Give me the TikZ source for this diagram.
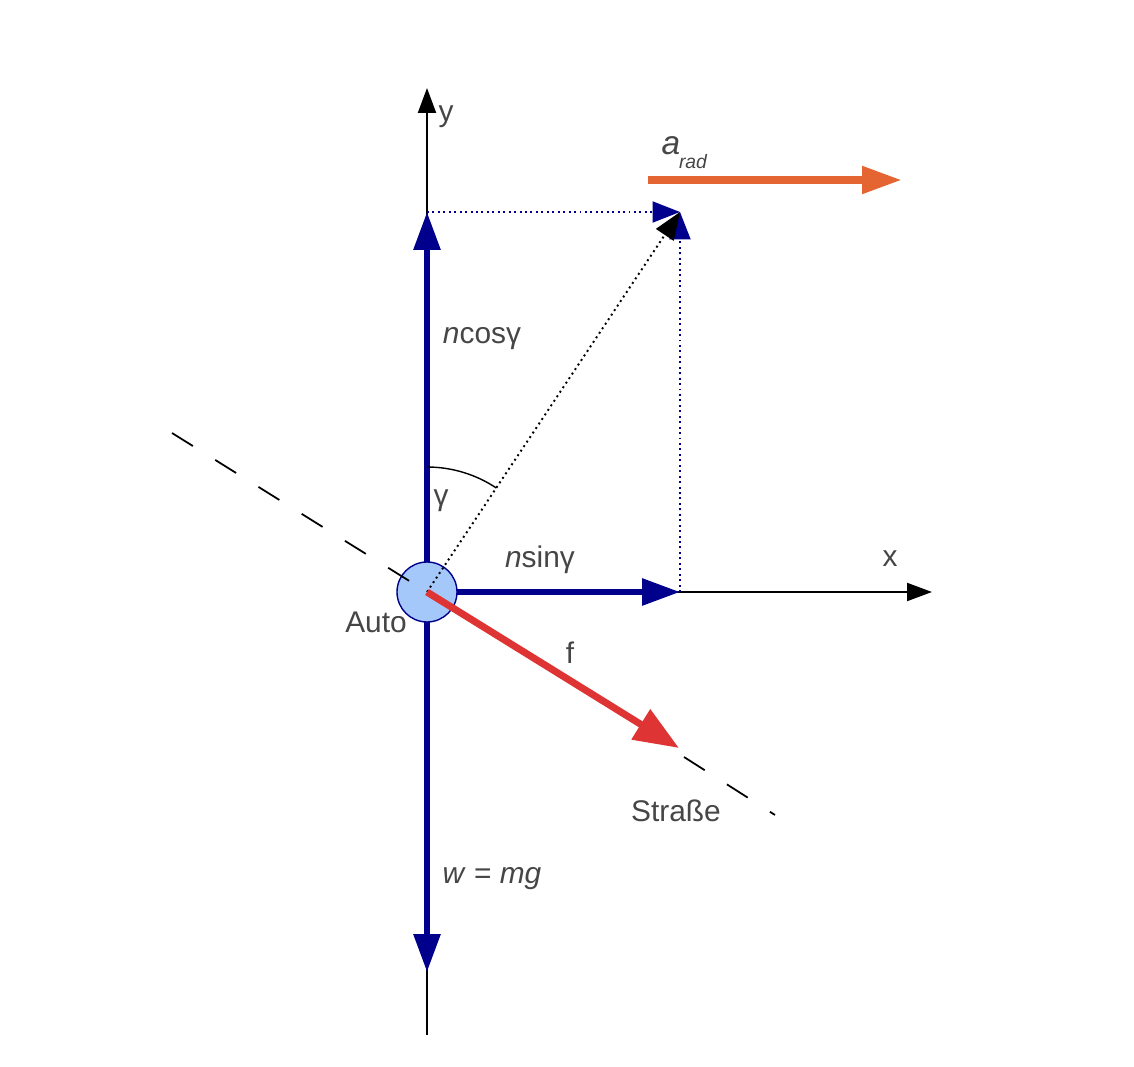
\documentclass[tikz,border=0pt]{standalone}
\usepackage{fontspec}
\setmainfont{Liberation Sans}
\usetikzlibrary{arrows.meta}
\usetikzlibrary{positioning}

\definecolor{navy}{RGB}{0,0,140}
\definecolor{forcered}{RGB}{222,52,52}
\definecolor{accorange}{RGB}{228,100,50}
\definecolor{autofill}{RGB}{165,200,250}
\definecolor{labelgray}{RGB}{70,70,70}

\tikzset{
  axis/.style={draw=black,line width=1.2pt,-{Triangle[length=0.5cm,width=0.36cm]}},
  bluevec/.style={draw=navy,line width=3.4pt,-{Triangle[length=0.76cm,width=0.52cm]}},
  helpline/.style={draw=navy,line width=1.1pt,dotted,-{Triangle[length=0.55cm,width=0.42cm,fill=navy]}},
  roadline/.style={line width=1pt,dash pattern=on 14pt off 15pt},
  lbl/.style={font=\fontsize{17}{20}\selectfont,text=labelgray,inner sep=0pt}
}

\begin{document}
\begin{tikzpicture}[x=0.02cm,y=-0.02cm]
\useasboundingbox (0,0) rectangle (1134,1067);
\coordinate (O) at (427,592);
\coordinate (ytop) at (427,88);
\coordinate (ybot) at (427,1035);
\coordinate (xend) at (932,592);
\coordinate (ny) at (427,212);
\coordinate (nx) at (680,592);
\coordinate (wd) at (427,972);
\coordinate (N) at (680,212);
\coordinate (roadA) at (172,433);
\coordinate (roadC) at (684,757);
\coordinate (roadB) at (775,815);
\coordinate (ftip) at (679,748);
\coordinate (astart) at (648,180);
\coordinate (aend) at (902,180);

% axes
\draw[line width=1.2pt] (O) -- (ybot);
\draw[axis] (O) -- (ytop);
\draw[axis] (O) -- (xend);

% normal force components and weight
\draw[bluevec] (O) -- (ny);
\draw[bluevec] (O) -- (nx);
\draw[bluevec] (O) -- (wd);

% car
\node[circle,draw=navy,fill=autofill,line width=0.8pt,minimum size=1.2cm,inner sep=0pt] (auto) at (O) {};

% road
\draw[roadline] (roadA) -- (O);
\draw[roadline] (roadC) -- (roadB);

% projections
\draw[helpline] (ny) -- (N);
\draw[helpline] (nx) -- (N);
\draw[line width=1.1pt,dotted,-{Triangle[length=0.55cm,width=0.42cm]}] (O) -- (N);

% angle
\draw[line width=0.8pt] (O) ++(0,-125) arc[start angle=90,end angle=56.3,radius=2.5cm];

% friction and acceleration
\draw[draw=forcered,line width=4pt,-{Triangle[length=0.9cm,width=0.68cm]}] (O) -- (ftip);
\draw[draw=accorange,line width=4.5pt,-{Triangle[length=0.8cm,width=0.52cm]}] (astart) -- (aend);

% labels
\node[lbl] (ylbl) at (446,117) {y};
\node[lbl] (xlbl) at (890,559) {x};
\node[lbl,font=\fontsize{19}{22}\selectfont\itshape] (albl) at (671,146) {a};
\node[lbl,font=\fontsize{11}{13}\selectfont\itshape] (radlbl) at (693,162) {rad};
\node[lbl] (ncos) at (482,339) {\textit{n}cosγ};
\node[lbl] (gam) at (441,501) {γ};
\node[lbl] (nsin) at (540,560) {\textit{n}sinγ};
\node[lbl] (autolbl) at (376,622) {Auto};
\node[lbl] (flbl) at (570,653) {f};
\node[lbl] (road) at (676,811) {Straße};
\node[lbl] (wlbl) at (492,879) {\textit{w} = \textit{mg}};
\end{tikzpicture}
\end{document}
